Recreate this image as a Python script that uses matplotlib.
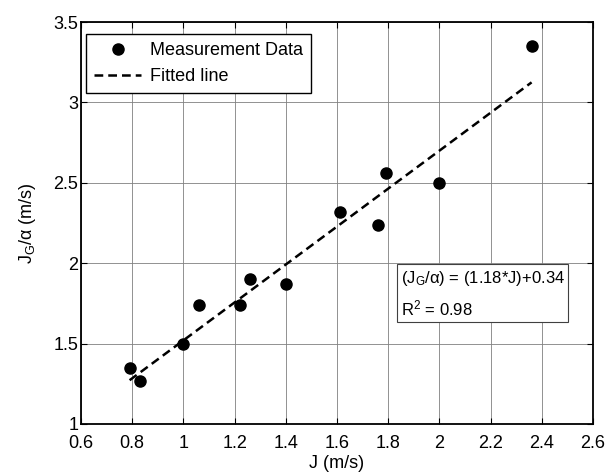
import matplotlib
matplotlib.use("Agg")
import matplotlib.pyplot as plt
import numpy as np

plt.rcParams['font.family'] = ['Liberation Sans', 'DejaVu Sans']
plt.rcParams['mathtext.default'] = 'regular'

j_values = [0.79, 0.83, 1.00, 1.06, 1.22, 1.26, 1.40, 1.61, 1.76, 1.79, 2.00, 2.36]
jg_alpha = [1.35, 1.27, 1.50, 1.74, 1.74, 1.90, 1.87, 2.32, 2.24, 2.56, 2.50, 3.35]

slope = 1.18
intercept = 0.34
r_squared = 0.98

xticks = [0.6, 0.8, 1.0, 1.2, 1.4, 1.6, 1.8, 2.0, 2.2, 2.4, 2.6]
xtick_labels = ['0.6', '0.8', '1', '1.2', '1.4', '1.6', '1.8', '2', '2.2', '2.4', '2.6']
yticks = [1, 1.5, 2, 2.5, 3, 3.5]
ytick_labels = ['1', '1.5', '2', '2.5', '3', '3.5']


def main():
    fig = plt.figure(figsize=(6.07, 4.74), dpi=100)
    ax = fig.add_axes([0.1334, 0.1055, 0.8436, 0.848])

    ax.plot(j_values, jg_alpha, 'o', color='black', markersize=8,
            label='Measurement Data')
    x_fit = np.array([min(j_values), max(j_values)])
    ax.plot(x_fit, slope * x_fit + intercept, '--', color='black',
            linewidth=1.8, dashes=(3.5, 2), label='Fitted line')

    ax.set_xlim(0.6, 2.6)
    ax.set_ylim(1, 3.5)
    ax.set_xticks(xticks)
    ax.set_xticklabels(xtick_labels)
    ax.set_yticks(yticks)
    ax.set_yticklabels(ytick_labels)
    ax.tick_params(direction='in', top=True, right=True, labelsize=13,
                   length=4, width=0.8)
    ax.tick_params(axis='x', pad=8)
    ax.tick_params(axis='y', pad=2)
    ax.grid(True, color='#808080', linewidth=0.6)
    for sp in ax.spines.values():
        sp.set_linewidth(1.3)

    ax.set_xlabel('J (m/s)', fontsize=13, labelpad=2)
    ax.set_ylabel(r'J$_{G}$/α (m/s)', fontsize=13, labelpad=11)

    leg = ax.legend(loc='upper left', bbox_to_anchor=(0.0098, 0.970),
                    borderaxespad=0, fontsize=13, fancybox=False,
                    framealpha=1, edgecolor='black',
                    handlelength=2.6, handletextpad=0.5, borderpad=0.45,
                    labelspacing=0.5)
    leg.get_frame().set_linewidth(1.0)

    ax.text(1.848, 1.81,
            '(J$_{G}$/α) = (%.2f*J)+%.2f\nR$^{2}$ = %.2f' % (slope, intercept, r_squared),
            fontsize=12, va='center', ha='left', linespacing=1.6,
            bbox=dict(boxstyle='square,pad=0.2', facecolor='white',
                      edgecolor='#404040', linewidth=0.8))

    fig.savefig('out.png', dpi=100)


if __name__ == '__main__':
    main()
